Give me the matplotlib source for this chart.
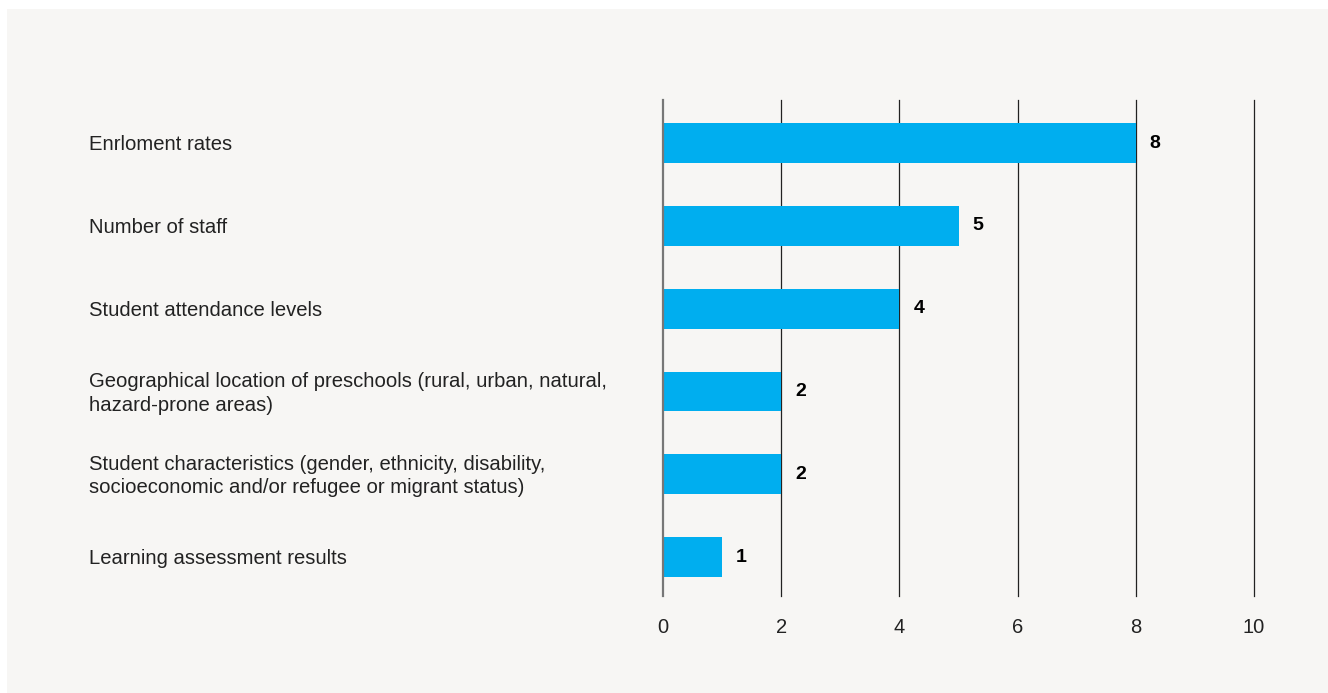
import matplotlib.pyplot as plt
from matplotlib.patches import Rectangle
from matplotlib.transforms import offset_copy

plt.rcParams['font.family'] = ['Liberation Sans', 'DejaVu Sans']

# --- data ---
categories = [
    "Enrloment rates",
    "Number of staff",
    "Student attendance levels",
    "Geographical location of preschools (rural, urban, natural,\nhazard-prone areas)",
    "Student characteristics (gender, ethnicity, disability,\nsocioeconomic and/or refugee or migrant status)",
    "Learning assessment results",
]
values = [8, 5, 4, 2, 2, 1]
x_ticks = [0, 2, 4, 6, 8, 10]

bar_color = '#00aeef'
panel_color = '#f7f6f4'
text_color = '#222222'

W, H = 1328, 693
fig = plt.figure(figsize=(W / 100, H / 100), dpi=100, facecolor='white')

# light panel behind the chart
fig.patches.append(Rectangle((7 / W, 0), 1 - 7 / W, 1 - 9 / H,
                             transform=fig.transFigure, facecolor=panel_color,
                             edgecolor='none', zorder=-10))

ax = fig.add_axes([663 / W, 1 - 596 / H, (1254 - 663) / W, (596 - 100) / H])
ax.set_facecolor('none')

ypos = list(range(len(categories)))
ax.barh(ypos, values, height=0.48, color=bar_color, zorder=3)

ax.set_xlim(0, 10)
ax.set_ylim(len(categories) - 0.53, -0.52)

# vertical gridlines
for t in x_ticks:
    if t == 0:
        ax.axvline(t, color='#777777', lw=1.6, zorder=4, clip_on=False)
    else:
        ax.axvline(t, color='#222222', lw=0.9, zorder=2, clip_on=False)

ax.set_xticks(x_ticks)
ax.set_xticklabels([str(t) for t in x_ticks], fontsize=14.5, color=text_color)
ax.tick_params(axis='x', length=0, pad=16)
ax.set_yticks([])
for s in ax.spines.values():
    s.set_visible(False)

# category labels, left aligned
lab_x = (89 - 663) / (1254 - 663)
for y, name in zip(ypos, categories):
    ax.text(lab_x, y + 0.02, name, transform=ax.get_yaxis_transform(),
            ha='left', va='center', fontsize=14.6, color=text_color,
            linespacing=1.32)

# value labels
trans = offset_copy(ax.transData, fig=fig, x=14, y=0, units='dots')
for y, v in zip(ypos, values):
    ax.text(v, y, str(v), transform=trans, ha='left', va='center',
            fontsize=14, fontweight='bold', color='black')

fig.savefig('out.png', dpi=100, facecolor=fig.get_facecolor())
